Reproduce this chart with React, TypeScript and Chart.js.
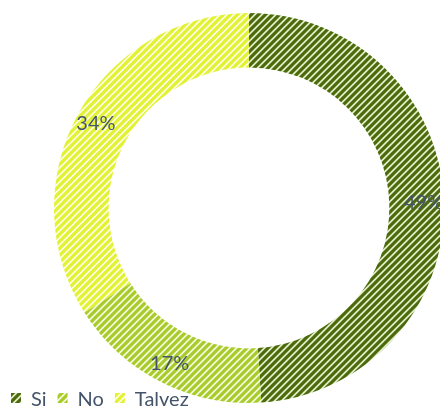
import React, { useEffect, useRef } from "react";
import { Chart, registerables } from "chart.js";

Chart.register(...registerables);

const categories = ["Si", "No", "Talvez"];
const values = [49, 17, 34];
const valueLabels = ["49%", "17%", "34%"];
const stripeColors = ["#4B6A0C", "#A8CB2B", "#E2F232"];
const groundColors = ["#E4EDC8", "#F4F9DA", "#FCFEE2"];

function makePattern(fg: string, bg: string, size: number, lw: number): CanvasPattern | string {
  const c = document.createElement("canvas");
  c.width = size;
  c.height = size;
  const g = c.getContext("2d");
  if (!g) return fg;
  g.fillStyle = bg;
  g.fillRect(0, 0, size, size);
  g.strokeStyle = fg;
  g.lineWidth = lw;
  g.lineCap = "square";
  g.beginPath();
  g.moveTo(-1, size + 1);
  g.lineTo(size + 1, -1);
  g.moveTo(-size / 2 - 1, size / 2 + 1);
  g.lineTo(size / 2 + 1, -size / 2 - 1);
  g.moveTo(size / 2 - 1, size * 1.5 + 1);
  g.lineTo(size * 1.5 + 1, size / 2 - 1);
  g.stroke();
  const p = g.createPattern(c, "repeat");
  return p || fg;
}

const labelPlugin = {
  id: "valueLabels",
  afterDatasetsDraw(chart: any) {
    const ctx = chart.ctx;
    const meta = chart.getDatasetMeta(0);
    ctx.save();
    ctx.font = "20px Lato";
    ctx.fillStyle = "#44546A";
    ctx.textAlign = "center";
    ctx.textBaseline = "middle";
    meta.data.forEach((arc: any, i: number) => {
      const p = arc.getProps(["x", "y", "startAngle", "endAngle", "innerRadius", "outerRadius"], true);
      const mid = (p.startAngle + p.endAngle) / 2;
      const r = (p.innerRadius + p.outerRadius) / 2 + 7;
      ctx.fillText(valueLabels[i], p.x + r * Math.cos(mid), p.y + r * Math.sin(mid));
    });
    ctx.restore();
  },
};

const legendPlugin = {
  id: "bottomLegend",
  afterDraw(chart: any) {
    const ctx = chart.ctx;
    const bgs = chart.data.datasets[0].backgroundColor;
    ctx.save();
    ctx.font = "20px Lato";
    ctx.textBaseline = "alphabetic";
    ctx.textAlign = "left";
    let x = 11;
    const base = 406;
    chart.data.labels.forEach((lab: string, i: number) => {
      ctx.fillStyle = bgs[i];
      ctx.fillRect(x, 393, 10, 10);
      x += 20;
      ctx.fillStyle = "#44546A";
      ctx.fillText(lab, x, base);
      x += ctx.measureText(lab).width + 11;
    });
    ctx.restore();
  },
};

export default function App() {
  const ref = useRef<HTMLCanvasElement | null>(null);
  useEffect(() => {
    if (!ref.current) return;
    const fills = stripeColors.map((c, i) => makePattern(c, groundColors[i], 7, 3.2));
    const chart = new Chart(ref.current, {
      type: "doughnut",
      data: {
        labels: categories,
        datasets: [
          {
            data: values,
            backgroundColor: fills as any,
            borderWidth: 0,
          },
        ],
      },
      options: {
        responsive: false,
        animation: false,
        devicePixelRatio: 1,
        cutout: "72%",
        layout: { padding: { left: 54, top: 13, right: 16, bottom: 17 } },
        plugins: {
          legend: { display: false },
          tooltip: { enabled: false },
          title: { display: false },
        },
      },
      plugins: [labelPlugin, legendPlugin],
    });
    return () => chart.destroy();
  }, []);
  return (
    <div
      style={{
        position: "fixed",
        left: 0,
        top: 0,
        width: 440,
        height: 408,
        overflow: "hidden",
        background: "#ffffff",
      }}
    >
      <canvas ref={ref} width={460} height={420} style={{ display: "block" }} />
    </div>
  );
}
